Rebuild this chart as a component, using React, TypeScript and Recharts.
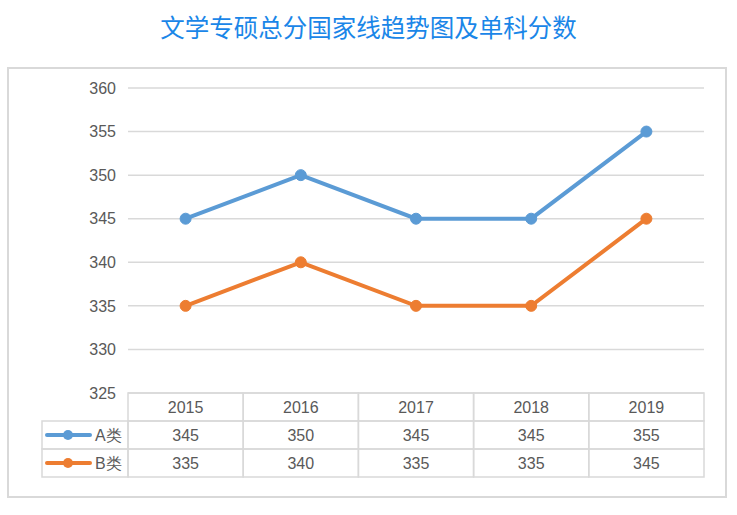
import React from "react"
import { ComposedChart, Line, XAxis, YAxis, CartesianGrid } from "recharts"

const years = ["2015", "2016", "2017", "2018", "2019"]
const seriesA = [345, 350, 345, 345, 355]
const seriesB = [335, 340, 335, 335, 345]
const seriesNames = ["A类", "B类"]
const yTicks = [325, 330, 335, 340, 345, 350, 355, 360]

const data = years.map((year, i) => ({ year, a: seriesA[i], b: seriesB[i] }))

const BLUE = "#5b9bd5"
const ORANGE = "#ed7d31"
const GRID = "#d9d9d9"
const TEXT = "#595959"
const FONT = "'Liberation Sans', Arial, sans-serif"

const PLOT_LEFT = 128
const PLOT_RIGHT = 704
const CELL_W = (PLOT_RIGHT - PLOT_LEFT) / years.length
const ROW_H = 28
const LEGEND_LEFT = 42

function TableTick(props: any) {
  const { x, y, payload } = props
  const i = payload.index
  const left = x - CELL_W / 2
  const rows = [years[i], String(seriesA[i]), String(seriesB[i])]
  return (
    <g>
      {rows.map((t, r) => (
        <g key={r}>
          <rect x={left} y={y + r * ROW_H} width={CELL_W} height={ROW_H} fill="none" stroke={GRID} strokeWidth={1.5} />
          <text x={x} y={y + r * ROW_H + ROW_H / 2 + 6} textAnchor="middle" fill={TEXT} fontSize={16} fontFamily={FONT}>
            {t}
          </text>
        </g>
      ))}
      {i === 0 &&
        seriesNames.map((name, r) => {
          const top = y + (r + 1) * ROW_H
          const cy = top + ROW_H / 2
          const color = r === 0 ? BLUE : ORANGE
          return (
            <g key={name}>
              <rect x={LEGEND_LEFT} y={top} width={PLOT_LEFT - LEGEND_LEFT} height={ROW_H} fill="none" stroke={GRID} strokeWidth={1.5} />
              <line x1={47} x2={90} y1={cy} y2={cy} stroke={color} strokeWidth={4} strokeLinecap="round" />
              <circle cx={68} cy={cy} r={5} fill={color} />
              <text x={95} y={cy + 6} fill={TEXT} fontSize={16} fontFamily={FONT}>
                {name}
              </text>
            </g>
          )
        })}
    </g>
  )
}

export default function App() {
  return (
    <div style={{ position: "absolute", left: 0, top: 0, width: 737, height: 515, background: "#fff" }}>
      <div
        style={{
          position: "absolute",
          left: 7,
          top: 67,
          width: 716,
          height: 427,
          border: `2px solid ${GRID}`,
        }}
      />
      <div
        style={{
          position: "absolute",
          left: 0,
          top: 8,
          width: 737,
          textAlign: "center",
          color: "#1a86e8",
          fontSize: 24.5,
          fontWeight: 400,
          fontFamily: "'Noto Sans CJK SC', sans-serif",
          lineHeight: "38px",
        }}
      >
        文学专硕总分国家线趋势图及单科分数
      </div>
      <div style={{ position: "absolute", left: 0, top: 0 }}>
        <ComposedChart width={737} height={515} data={data} margin={{ top: 88, right: 33, bottom: 39, left: 88 }}>
          <CartesianGrid vertical={false} stroke={GRID} strokeWidth={1.5} />
          <XAxis
            dataKey="year"
            scale="band"
            axisLine={false}
            tickLine={false}
            tickSize={0}
            tickMargin={0}
            height={83}
            interval={0}
            tick={<TableTick />}
          />
          <YAxis
            domain={[325, 360]}
            ticks={yTicks}
            axisLine={false}
            tickLine={false}
            tickSize={0}
            tickMargin={12}
            width={40}
            tick={{ fill: TEXT, fontSize: 16, fontFamily: FONT }}
          />
          <Line
            dataKey="a"
            stroke={BLUE}
            strokeWidth={4}
            dot={{ r: 5.5, fill: BLUE, stroke: BLUE, strokeWidth: 1 }}
            isAnimationActive={false}
          />
          <Line
            dataKey="b"
            stroke={ORANGE}
            strokeWidth={4}
            dot={{ r: 5.5, fill: ORANGE, stroke: ORANGE, strokeWidth: 1 }}
            isAnimationActive={false}
          />
        </ComposedChart>
      </div>
    </div>
  )
}
